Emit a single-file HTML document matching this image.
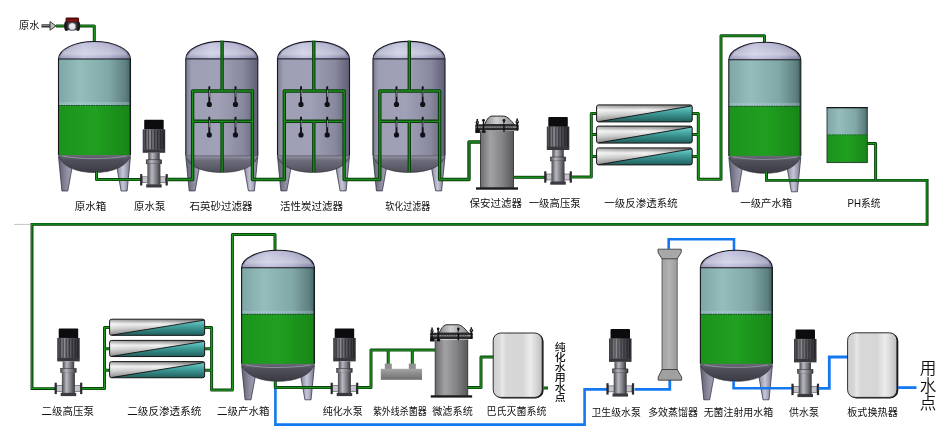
<!DOCTYPE html>
<html lang="zh-CN"><head><meta charset="utf-8"><title>制药用水工艺流程图</title>
<style>html,body{margin:0;padding:0;background:#fff;}body{width:950px;height:433px;overflow:hidden;}svg{display:block;will-change:transform;}text{font-family:"Liberation Sans","Noto Sans CJK SC",sans-serif;fill:#111;}</style>
</head><body>
<svg width="950" height="433" viewBox="0 0 950 433">

<defs>
 <linearGradient id="gDome" x1="0" y1="0" x2="1" y2="0">
  <stop offset="0" stop-color="#9696b6"/><stop offset="0.35" stop-color="#c2c2de"/><stop offset="0.7" stop-color="#adadcc"/><stop offset="1" stop-color="#7c7c9c"/>
 </linearGradient>
 <linearGradient id="gDomeV" x1="0" y1="0" x2="0" y2="1">
  <stop offset="0" stop-color="#ffffff" stop-opacity="0.05"/><stop offset="0.7" stop-color="#ffffff" stop-opacity="0.35"/><stop offset="1" stop-color="#ffffff" stop-opacity="0"/>
 </linearGradient>
 <linearGradient id="gAir" x1="0" y1="0" x2="1" y2="0">
  <stop offset="0" stop-color="#7ea6a6"/><stop offset="0.3" stop-color="#95bdbb"/><stop offset="0.7" stop-color="#80a8a6"/><stop offset="0.93" stop-color="#5e8080"/><stop offset="1" stop-color="#466464"/>
 </linearGradient>
 <linearGradient id="gWater" x1="0" y1="0" x2="1" y2="0">
  <stop offset="0" stop-color="#1c931c"/><stop offset="0.5" stop-color="#20a020"/><stop offset="1" stop-color="#178617"/>
 </linearGradient>
 <linearGradient id="gBot" x1="0" y1="0" x2="0" y2="1">
  <stop offset="0" stop-color="#6e6e7c"/><stop offset="0.3" stop-color="#50505c"/><stop offset="1" stop-color="#3a3a44"/>
 </linearGradient>
 <linearGradient id="gLegL" x1="0" y1="0" x2="1" y2="0">
  <stop offset="0" stop-color="#5e5e70"/><stop offset="0.55" stop-color="#8a8a9c"/><stop offset="1" stop-color="#a2a2b4"/>
 </linearGradient>
 <linearGradient id="gLegR" x1="0" y1="0" x2="1" y2="0">
  <stop offset="0" stop-color="#8a8aa0"/><stop offset="0.45" stop-color="#c6c6d8"/><stop offset="1" stop-color="#74748c"/>
 </linearGradient>
 <linearGradient id="gFilt" x1="0" y1="0" x2="1" y2="0">
  <stop offset="0" stop-color="#7c7c92"/><stop offset="0.08" stop-color="#9e9eb4"/><stop offset="0.45" stop-color="#a0a0b6"/><stop offset="0.8" stop-color="#88889e"/><stop offset="1" stop-color="#5e5e76"/>
 </linearGradient>
 <linearGradient id="gFiltBot" x1="0" y1="0" x2="0" y2="1">
  <stop offset="0" stop-color="#9a9aac"/><stop offset="0.3" stop-color="#6c6c7c"/><stop offset="1" stop-color="#50505c"/>
 </linearGradient>
 <linearGradient id="gMotor" x1="0" y1="0" x2="1" y2="0">
  <stop offset="0" stop-color="#3a3a3e"/><stop offset="0.3" stop-color="#8e8e94"/><stop offset="0.55" stop-color="#5a5a60"/><stop offset="1" stop-color="#2c2c30"/>
 </linearGradient>
 <linearGradient id="gPBody" x1="0" y1="0" x2="1" y2="0">
  <stop offset="0" stop-color="#4a4a50"/><stop offset="0.35" stop-color="#b8b8c0"/><stop offset="0.7" stop-color="#77777e"/><stop offset="1" stop-color="#38383c"/>
 </linearGradient>
 <linearGradient id="gCyl" x1="0" y1="0" x2="0" y2="1">
  <stop offset="0" stop-color="#828282"/><stop offset="0.3" stop-color="#f6f6f6"/><stop offset="0.58" stop-color="#cacaca"/><stop offset="0.85" stop-color="#8c8c8c"/><stop offset="1" stop-color="#5e5e5e"/>
 </linearGradient>
 <linearGradient id="gCylH" x1="0" y1="0" x2="1" y2="0">
  <stop offset="0" stop-color="#ffffff" stop-opacity="0.25"/><stop offset="0.5" stop-color="#808080" stop-opacity="0.0"/><stop offset="1" stop-color="#303030" stop-opacity="0.35"/>
 </linearGradient>
 <linearGradient id="gTeal" x1="0" y1="0" x2="0" y2="1">
  <stop offset="0" stop-color="#6fd0cc"/><stop offset="0.45" stop-color="#3f9c98"/><stop offset="1" stop-color="#1f5e5c"/>
 </linearGradient>
 <linearGradient id="gSec" x1="0" y1="0" x2="1" y2="0">
  <stop offset="0" stop-color="#6c6c6e"/><stop offset="0.3" stop-color="#a2a2a4"/><stop offset="0.65" stop-color="#848486"/><stop offset="1" stop-color="#58585a"/>
 </linearGradient>
 <linearGradient id="gLid" x1="0" y1="0" x2="1" y2="0">
  <stop offset="0" stop-color="#8a8a8c"/><stop offset="0.4" stop-color="#d0d0d2"/><stop offset="1" stop-color="#8a8a8c"/>
 </linearGradient>
 <linearGradient id="gBox" x1="0" y1="0" x2="1" y2="0">
  <stop offset="0" stop-color="#cfcfcf"/><stop offset="0.12" stop-color="#d6d6d6"/><stop offset="0.19" stop-color="#e8e8e8"/><stop offset="0.26" stop-color="#d8d8d8"/><stop offset="0.6" stop-color="#d6d6d6"/><stop offset="0.76" stop-color="#ececec"/><stop offset="0.86" stop-color="#dadada"/><stop offset="1" stop-color="#bdbdbd"/>
 </linearGradient>
 <linearGradient id="gUV" x1="0" y1="0" x2="0" y2="1">
  <stop offset="0" stop-color="#a6a6a6"/><stop offset="0.4" stop-color="#8e8e8e"/><stop offset="1" stop-color="#707070"/>
 </linearGradient>
 <linearGradient id="gCol" x1="0" y1="0" x2="1" y2="0">
  <stop offset="0" stop-color="#a2a2a2"/><stop offset="0.5" stop-color="#b2b2b2"/><stop offset="1" stop-color="#9a9a9a"/>
 </linearGradient>

 <!-- shared tank silhouette pieces: 72 wide, 150 tall -->
 <g id="legs">
  <path d="M0,115 L3.4,149.5 L9.3,149.5 L13.4,127 Z" fill="url(#gLegL)" stroke="#26263a" stroke-width="0.7" stroke-linejoin="round"/>
  <path d="M72,115 L68.6,149.5 L62.6,149.5 L58.6,127 Z" fill="url(#gLegR)" stroke="#26263a" stroke-width="0.7" stroke-linejoin="round"/>
 </g>
 <g id="tank">
  <use href="#legs"/>
  <path d="M0,113 C3,125 18,131 36,131 C54,131 69,125 72,113 Z" fill="url(#gBot)" stroke="#2c2c34" stroke-width="0.6"/>
  <path d="M4,114.5 C20,118 52,118 68,114.5" fill="none" stroke="#b0b0c0" stroke-width="1" opacity="0.6"/>
  <rect x="0" y="17.5" width="72" height="47" fill="url(#gAir)"/>
  <rect x="0" y="60.5" width="72" height="3" fill="#b8d0e0" opacity="0.35"/>
  <rect x="0" y="63.8" width="72" height="49.7" fill="url(#gWater)"/>
  <path d="M0,64 H72" stroke="#123a22" stroke-width="0.9" stroke-dasharray="1.6 0.9"/>
  <path d="M0,17.5 A36,17.5 0 0 1 72,17.5 Z" fill="url(#gDome)"/>
  <path d="M2.5,16.5 A33.5,15 0 0 1 69.5,16.5 Z" fill="url(#gDomeV)"/>
  <path d="M0,113.5 V17.5 A36,17.5 0 0 1 72,17.5 V113.5" fill="none" stroke="#14141c" stroke-width="1.1"/>
  <path d="M0,17.5 H72" stroke="#14141c" stroke-width="1.1"/>
  <path d="M71.2,18 V113" stroke="#23402c" stroke-width="1.2" opacity="0.7"/>
 </g>
 <g id="ftank">
  <use href="#legs"/>
  <path d="M0,114 C3,126 18,131 36,131 C54,131 69,126 72,114 Z" fill="url(#gFiltBot)" stroke="#2c2c34" stroke-width="0.6"/>
  <rect x="0" y="17.5" width="72" height="97" fill="url(#gFilt)"/>
  <path d="M0,114.5 H72" stroke="#5a5a6a" stroke-width="0.8"/>
  <path d="M0,17.5 A36,17.5 0 0 1 72,17.5 Z" fill="url(#gDome)"/>
  <path d="M2.5,16.5 A33.5,15 0 0 1 69.5,16.5 Z" fill="url(#gDomeV)"/>
  <path d="M0,114 V17.5 A36,17.5 0 0 1 72,17.5 V114" fill="none" stroke="#181822" stroke-width="1.1"/>
  <path d="M0,17.5 H72" stroke="#2a2a3a" stroke-width="1.2"/>
 </g>
 <!-- valve: stem + ball -->
 <g id="valve">
  <path d="M0,-4.5 V13" stroke="#101018" stroke-width="1.9"/>
  <path d="M0.3,-1 V6" stroke="#d8d8e0" stroke-width="0.6"/>
  <circle cx="0" cy="13.6" r="2.6" fill="#101018"/>
 </g>
 <!-- pump: origin at motor top-left of 22 wide -->
 <g id="pump">
  <rect x="1.5" y="0" width="19.5" height="10" rx="1" fill="#0c0c0e"/>
  <rect x="0" y="9.5" width="22.5" height="20.5" fill="url(#gMotor)"/>
  <path d="M3,10 V29.5 M6,10 V29.5 M9,10 V29.5 M12,10 V29.5 M15,10 V29.5 M18,10 V29.5 M20.5,10 V29.5" stroke="#1a1a1e" stroke-width="0.9" opacity="0.75"/>
  <rect x="0" y="29.5" width="22.5" height="3.5" fill="#38383c"/>
  <rect x="5.5" y="33" width="11.5" height="7.5" fill="url(#gPBody)"/>
  <rect x="3.5" y="40" width="15.5" height="4" fill="url(#gPBody)" stroke="#222" stroke-width="0.5"/>
  <rect x="4.7" y="44" width="13" height="21" fill="url(#gPBody)"/>
  <rect x="3.5" y="64.5" width="15.5" height="3.2" fill="#3a3a40"/>
  <rect x="-0.5" y="57" width="5.5" height="6" fill="#c4c4cc" stroke="#333" stroke-width="0.5"/>
  <rect x="17.5" y="57" width="5.5" height="6" fill="#c4c4cc" stroke="#333" stroke-width="0.5"/>
  <rect x="-2.6" y="54.3" width="2.2" height="11.4" fill="#2a2a2e"/>
  <rect x="22.9" y="54.3" width="2.2" height="11.4" fill="#2a2a2e"/>
 </g>
 <!-- RO cylinder 96 x 18 -->
 <g id="rocyl">
  <rect x="0" y="0" width="95.6" height="17" rx="2" fill="url(#gCyl)"/>
  <rect x="0" y="0" width="95.6" height="17" rx="2" fill="url(#gCylH)"/>
  <path d="M3,16.6 L95.2,1 L95.6,15 Q95.6,17 93.6,17 Z" fill="url(#gTeal)"/>
  <path d="M2,16.8 L95.2,1" stroke="#0c0c0c" stroke-width="0.9"/>
  <rect x="0" y="0" width="95.6" height="17" rx="2" fill="none" stroke="#141414" stroke-width="1"/>
 </g>
 <!-- bag / security filter : origin at body top-left, body 33 wide -->
 <g id="secf">
  <rect x="0" y="0" width="33" height="57" fill="url(#gSec)"/>
  <path d="M0,0 V57 M33,0 V57" stroke="#242426" stroke-width="0.8"/>
  <rect x="-4.5" y="56.3" width="42" height="2.4" fill="#1c1c1e"/>
  <path d="M4,-6.3 C5.5,-10 8,-14.9 11.5,-14.9 H23 C27,-14.9 31,-10 34,-6.3 Z" fill="url(#gLid)" stroke="#161618" stroke-width="0.9"/>
  <rect x="-5.2" y="-6.8" width="43.4" height="6.4" rx="0.8" fill="#2a2a2d"/>
  <rect x="-4.6" y="-4.6" width="42.2" height="1.5" fill="#9a9a9e"/>
  <path d="M-1,-3.8 H33" stroke="#2a2a2d" stroke-width="0.7" stroke-dasharray="1.4 0.9"/>
  <path d="M-3.2,-12 V-0.5 M3,-11.5 V0.8 M23.5,-11.5 V0.8 M36.7,-12.4 V-0.5" stroke="#121214" stroke-width="1.5"/>
  <circle cx="-3.2" cy="-8.6" r="1.7" fill="#121214"/><circle cx="36.7" cy="-9" r="1.8" fill="#121214"/>
  <circle cx="3" cy="-10.8" r="1.3" fill="#121214"/><circle cx="23.5" cy="-10.8" r="1.3" fill="#121214"/>
  <path d="M-3.6,-8.8 H-2.6 M36.2,-9.4 H37.4 M23,-7.6 H24.4" stroke="#d8d8dc" stroke-width="0.9"/>
  <rect x="-5.2" y="-1.2" width="4.6" height="3.2" fill="#101012"/>
  <rect x="1.6" y="-0.6" width="3.4" height="2.4" fill="#101012"/>
 </g>
</defs>

<path d="M41.5,25.9 H50.5" stroke="#2e2e2e" stroke-width="3.2"/><path d="M42,25.6 H50.5" stroke="#8a8a8a" stroke-width="1"/>
<path d="M50,21.6 L56,25.9 L50,30.2 Z" fill="#bdbdbd" stroke="#2a2a2a" stroke-width="0.9"/>
<path d="M56,25.9 H94.3 V42.5" fill="none" stroke="#0a400c" stroke-width="3.0" stroke-linejoin="round"/>
<path d="M56,25.9 H94.3 V42.5" fill="none" stroke="#1e961e" stroke-width="1.25" stroke-linejoin="round"/>
<g><ellipse cx="66.4" cy="25.9" rx="2.3" ry="5" fill="#1a1a1c"/><ellipse cx="77.9" cy="25.9" rx="2.3" ry="5" fill="#1a1a1c"/><rect x="67" y="21.6" width="10.4" height="8.8" rx="3" fill="#3a3a3e"/><ellipse cx="72.2" cy="26.4" rx="3.7" ry="3.6" fill="#e6eaee" stroke="#55595e" stroke-width="0.6"/><rect x="65.6" y="17.6" width="13.4" height="4.3" rx="1.2" fill="#4e0a0a"/><rect x="67" y="19.4" width="10.6" height="2" fill="#8e1616"/></g>
<use href="#tank" x="58.5" y="41.5"/>
<path d="M96.5,171.5 V179.6 H141" fill="none" stroke="#0a400c" stroke-width="3.0" stroke-linejoin="round"/>
<path d="M96.5,171.5 V179.6 H141" fill="none" stroke="#1e961e" stroke-width="1.25" stroke-linejoin="round"/>
<use href="#pump" x="142.7" y="119.8"/>
<use href="#ftank" x="185.8" y="41.4"/>
<use href="#ftank" x="277.5" y="41.4"/>
<use href="#ftank" x="373" y="41.4"/>
<path d="M168,179.5 H192.60000000000002 V91 H252.4 V179.5 H284.3 V91 H344.1 V179.5 H379.8 V91 H439.6 V179.5 H469 V142 H481 M222.10000000000002,40.8 V91 M222.10000000000002,121.3 V172 M192.60000000000002,121.3 H252.4 M313.8,40.8 V91 M313.8,121.3 V172 M284.3,121.3 H344.1 M409.3,40.8 V91 M409.3,121.3 V172 M379.8,121.3 H439.6" fill="none" stroke="#0a3c0c" stroke-width="3.4" stroke-linejoin="round"/>
<path d="M168,179.5 H192.60000000000002 V91 H252.4 V179.5 H284.3 V91 H344.1 V179.5 H379.8 V91 H439.6 V179.5 H469 V142 H481 M222.10000000000002,40.8 V91 M222.10000000000002,121.3 V172 M192.60000000000002,121.3 H252.4 M313.8,40.8 V91 M313.8,121.3 V172 M284.3,121.3 H344.1 M409.3,40.8 V91 M409.3,121.3 V172 M379.8,121.3 H439.6" fill="none" stroke="#1c8e1c" stroke-width="1.3" stroke-linejoin="round"/>
<use href="#valve" x="209.3" y="90.8"/>
<use href="#valve" x="209.3" y="121.3"/>
<use href="#valve" x="235.5" y="90.8"/>
<use href="#valve" x="235.5" y="121.3"/>
<use href="#valve" x="301.0" y="90.8"/>
<use href="#valve" x="301.0" y="121.3"/>
<use href="#valve" x="327.2" y="90.8"/>
<use href="#valve" x="327.2" y="121.3"/>
<use href="#valve" x="396.5" y="90.8"/>
<use href="#valve" x="396.5" y="121.3"/>
<use href="#valve" x="422.7" y="90.8"/>
<use href="#valve" x="422.7" y="121.3"/>
<use href="#secf" x="480.5" y="131"/>
<path d="M513.5,177.3 H545" fill="none" stroke="#0a400c" stroke-width="3.0" stroke-linejoin="round"/>
<path d="M513.5,177.3 H545" fill="none" stroke="#1e961e" stroke-width="1.25" stroke-linejoin="round"/>
<use href="#pump" x="546.8" y="117"/>
<path d="M571.5,177 H591.3 V113.4 H597 M591.3,134.6 H597 M591.3,156.4 H597" fill="none" stroke="#0a400c" stroke-width="3.0" stroke-linejoin="round"/>
<path d="M571.5,177 H591.3 V113.4 H597 M591.3,134.6 H597 M591.3,156.4 H597" fill="none" stroke="#1e961e" stroke-width="1.25" stroke-linejoin="round"/>
<path d="M692,113.4 H698.3 V179.3 H721 V35.8 H764.5 V43 M692,134.6 H698.3 M692,156.4 H698.3" fill="none" stroke="#0a400c" stroke-width="3.0" stroke-linejoin="round"/>
<path d="M692,113.4 H698.3 V179.3 H721 V35.8 H764.5 V43 M692,134.6 H698.3 M692,156.4 H698.3" fill="none" stroke="#1e961e" stroke-width="1.25" stroke-linejoin="round"/>
<use href="#rocyl" x="596.6" y="104.9"/>
<use href="#rocyl" x="596.6" y="126.1"/>
<use href="#rocyl" x="596.6" y="147.9"/>
<use href="#tank" x="728.8" y="42.3"/>
<path d="M766.5,172 V180.4 H927.1 V224.4 H32 V388.6 H55" fill="none" stroke="#07340a" stroke-width="2.9" stroke-linejoin="miter"/>
<path d="M766.5,172 V180.4 H927.1 V224.4 H32 V388.6 H55" fill="none" stroke="#15981a" stroke-width="1.3" stroke-linejoin="miter" transform="translate(-0.2 -0.3)"/>
<path d="M867,143.6 H875.6 V180" fill="none" stroke="#0a400c" stroke-width="3.0" stroke-linejoin="round"/>
<path d="M867,143.6 H875.6 V180" fill="none" stroke="#1e961e" stroke-width="1.25" stroke-linejoin="round"/>
<g><rect x="827" y="107.6" width="40.3" height="27.4" fill="url(#gAir)"/><rect x="827" y="134.6" width="40.3" height="28" fill="url(#gWater)"/><path d="M827,134.8 H867.3" stroke="#1d4a30" stroke-width="0.7" stroke-dasharray="1.5 1"/><rect x="827" y="107.6" width="40.3" height="55" fill="none" stroke="#23342c" stroke-width="0.9"/><path d="M826.6,107.6 H867.7" stroke="#16161a" stroke-width="1.2"/></g>
<path d="M14,224.4 H30" stroke="#c4c4c4" stroke-width="1"/>
<use href="#pump" x="57.2" y="328.4"/>
<path d="M82,388.6 H104.5 V327.6 H110.5 M104.5,348.8 H110.5 M104.5,370.2 H110.5" fill="none" stroke="#0a400c" stroke-width="3.0" stroke-linejoin="round"/>
<path d="M82,388.6 H104.5 V327.6 H110.5 M104.5,348.8 H110.5 M104.5,370.2 H110.5" fill="none" stroke="#1e961e" stroke-width="1.25" stroke-linejoin="round"/>
<path d="M205,327.6 H211.6 V390 H232.4 V234.5 H275 V251 M205,348.8 H211.6 M205,370.2 H211.6" fill="none" stroke="#0a400c" stroke-width="3.0" stroke-linejoin="round"/>
<path d="M205,327.6 H211.6 V390 H232.4 V234.5 H275 V251 M205,348.8 H211.6 M205,370.2 H211.6" fill="none" stroke="#1e961e" stroke-width="1.25" stroke-linejoin="round"/>
<use href="#rocyl" x="109.6" y="319.2" transform="translate(109.6 319.2) scale(0.994 0.95) translate(-109.6 -319.2)"/>
<use href="#rocyl" x="109.6" y="340.4" transform="translate(109.6 340.4) scale(0.994 0.95) translate(-109.6 -340.4)"/>
<use href="#rocyl" x="109.6" y="361.6" transform="translate(109.6 361.6) scale(0.994 0.95) translate(-109.6 -361.6)"/>
<use href="#tank" x="241.6" y="250.3" transform="translate(241.6 250.3) scale(1.012 1) translate(-241.6 -250.3)"/>
<path d="M275.4,388 V424.6 H584.6 V389.4 H608" fill="none" stroke="#1478f0" stroke-width="2.6" stroke-linejoin="miter"/>
<path d="M275.3,381 V387.6 H332" fill="none" stroke="#0a400c" stroke-width="3.0" stroke-linejoin="round"/>
<path d="M275.3,381 V387.6 H332" fill="none" stroke="#1e961e" stroke-width="1.25" stroke-linejoin="round"/>
<use href="#pump" x="333.2" y="328.4"/>
<path d="M358,387.5 H371 V350 H435 M388.2,350 V365 M412.3,350 V365" fill="none" stroke="#0a400c" stroke-width="3.0" stroke-linejoin="round"/>
<path d="M358,387.5 H371 V350 H435 M388.2,350 V365 M412.3,350 V365" fill="none" stroke="#1e961e" stroke-width="1.25" stroke-linejoin="round"/>
<g><rect x="384.8" y="363.6" width="7" height="6.4" fill="#909090"/><rect x="408.8" y="363.6" width="7" height="6.4" fill="#909090"/><rect x="380.8" y="368.8" width="41.2" height="11" fill="url(#gUV)"/></g>
<use href="#secf" x="435.2" y="339.5" transform="translate(435.2 339.5) scale(0.985 0.99) translate(-435.2 -339.5)"/>
<path d="M467.4,387.6 H481 V357 H494" fill="none" stroke="#0a400c" stroke-width="3.0" stroke-linejoin="round"/>
<path d="M467.4,387.6 H481 V357 H494" fill="none" stroke="#1e961e" stroke-width="1.25" stroke-linejoin="round"/>
<rect x="494" y="333.4" width="49.6" height="65" rx="8" fill="#161616"/>
<rect x="493.2" y="333" width="49" height="64.4" rx="7.5" fill="url(#gBox)" stroke="#1a1a1a" stroke-width="0.9"/>
<path d="M543.5,388 H548" fill="none" stroke="#0a400c" stroke-width="3.0" stroke-linejoin="round"/>
<path d="M543.5,388 H548" fill="none" stroke="#1e961e" stroke-width="1.25" stroke-linejoin="round"/>
<use href="#pump" x="609" y="328.9"/>
<path d="M634.5,389.3 H669.8 V380" fill="none" stroke="#1478f0" stroke-width="2.8"/>
<g><rect x="662" y="256" width="15.2" height="115" fill="url(#gCol)" stroke="#3c3c3c" stroke-width="0.7"/><path d="M658,249.2 H681.2 V252.5 L677.2,258.8 H662 L658,252.5 Z" fill="#a8a8a8" stroke="#2c2c2c" stroke-width="0.8"/><path d="M662,369.5 H677.2 L681.6,377 V380.2 H658.2 V377 Z" fill="#a0a0a0" stroke="#2c2c2c" stroke-width="0.8"/></g>
<path d="M668.7,249 V239.2 H734 V251" fill="none" stroke="#1478f0" stroke-width="2.6"/>
<use href="#tank" x="700.4" y="250.3"/>
<path d="M733.6,381 V388.3 H792" fill="none" stroke="#1478f0" stroke-width="2.6"/>
<use href="#pump" x="794" y="329.4"/>
<path d="M818.5,388.4 H829.3 V357 H848" fill="none" stroke="#1478f0" stroke-width="2.8"/>
<rect x="848.3" y="333.2" width="50" height="65.2" rx="8" fill="#161616"/>
<rect x="847.6" y="332.8" width="49.3" height="64.6" rx="7.5" fill="url(#gBox)" stroke="#1a1a1a" stroke-width="0.9"/>
<path d="M898,387.6 H916.5" fill="none" stroke="#1478f0" stroke-width="2.8"/>
<g opacity="0.999">
<text x="19" y="29.4" font-size="10.6" textLength="20.4" lengthAdjust="spacingAndGlyphs">原水</text>
<text x="90.5" y="210.35" font-size="10.6" text-anchor="middle" textLength="31.6" lengthAdjust="spacingAndGlyphs">原水箱</text>
<text x="149.7" y="210.35" font-size="10.6" text-anchor="middle" textLength="31.2" lengthAdjust="spacingAndGlyphs">原水泵</text>
<text x="221" y="210.35" font-size="10.6" text-anchor="middle" textLength="63" lengthAdjust="spacingAndGlyphs">石英砂过滤器</text>
<text x="311.6" y="210.35" font-size="10.6" text-anchor="middle" textLength="63" lengthAdjust="spacingAndGlyphs">活性炭过滤器</text>
<text x="407.7" y="209.95" font-size="10.6" text-anchor="middle" textLength="44.8" lengthAdjust="spacingAndGlyphs">软化过滤器</text>
<text x="495.7" y="206.95" font-size="10.6" text-anchor="middle" textLength="52.3" lengthAdjust="spacingAndGlyphs">保安过滤器</text>
<text x="554.7" y="206.95" font-size="10.6" text-anchor="middle" textLength="52" lengthAdjust="spacingAndGlyphs">一级高压泵</text>
<text x="641" y="206.95" font-size="10.6" text-anchor="middle" textLength="73.3" lengthAdjust="spacingAndGlyphs">一级反渗透系统</text>
<text x="766.2" y="206.95" font-size="10.6" text-anchor="middle" textLength="51.8" lengthAdjust="spacingAndGlyphs">一级产水箱</text>
<text x="864" y="207.35" font-size="10.6" text-anchor="middle" textLength="32.8" lengthAdjust="spacingAndGlyphs">PH系统</text>
<text x="67.7" y="415.15" font-size="10.6" text-anchor="middle" textLength="52.5" lengthAdjust="spacingAndGlyphs">二级高压泵</text>
<text x="164.3" y="415.15" font-size="10.6" text-anchor="middle" textLength="74" lengthAdjust="spacingAndGlyphs">二级反渗透系统</text>
<text x="243.2" y="415.15" font-size="10.6" text-anchor="middle" textLength="52.3" lengthAdjust="spacingAndGlyphs">二级产水箱</text>
<text x="342.8" y="415.15" font-size="10.6" text-anchor="middle" textLength="40" lengthAdjust="spacingAndGlyphs">纯化水泵</text>
<text x="399.8" y="415.15" font-size="10.6" text-anchor="middle" textLength="53.8" lengthAdjust="spacingAndGlyphs">紫外线杀菌器</text>
<text x="452.5" y="415.15" font-size="10.6" text-anchor="middle" textLength="40.6" lengthAdjust="spacingAndGlyphs">微滤系统</text>
<text x="516.6" y="415.15" font-size="10.6" text-anchor="middle" textLength="60" lengthAdjust="spacingAndGlyphs">巴氏灭菌系统</text>
<text x="616.1" y="416.05" font-size="10.6" text-anchor="middle" textLength="49.3" lengthAdjust="spacingAndGlyphs">卫生级水泵</text>
<text x="673.1" y="416.05" font-size="10.6" text-anchor="middle" textLength="49.9" lengthAdjust="spacingAndGlyphs">多效蒸馏器</text>
<text x="738.4" y="416.05" font-size="10.6" text-anchor="middle" textLength="69.5" lengthAdjust="spacingAndGlyphs">无菌注射用水箱</text>
<text x="804" y="416.05" font-size="10.6" text-anchor="middle" textLength="29.8" lengthAdjust="spacingAndGlyphs">供水泵</text>
<text x="872.5" y="416.05" font-size="10.6" text-anchor="middle" textLength="50.5" lengthAdjust="spacingAndGlyphs">板式换热器</text>
<text x="560.3" y="350.8" font-size="10" text-anchor="middle" font-weight="500" textLength="10.9" lengthAdjust="spacingAndGlyphs">纯</text>
<text x="560.3" y="360.85" font-size="10" text-anchor="middle" font-weight="500" textLength="10.9" lengthAdjust="spacingAndGlyphs">化</text>
<text x="560.3" y="370.90000000000003" font-size="10" text-anchor="middle" font-weight="500" textLength="10.9" lengthAdjust="spacingAndGlyphs">水</text>
<text x="560.3" y="380.95" font-size="10" text-anchor="middle" font-weight="500" textLength="10.9" lengthAdjust="spacingAndGlyphs">用</text>
<text x="560.3" y="391.0" font-size="10" text-anchor="middle" font-weight="500" textLength="10.9" lengthAdjust="spacingAndGlyphs">水</text>
<text x="560.3" y="401.05" font-size="10" text-anchor="middle" font-weight="500" textLength="10.9" lengthAdjust="spacingAndGlyphs">点</text>
<text x="928" y="374.3" font-size="16.6" font-weight="350" text-anchor="middle" fill="#222">用</text>
<text x="928" y="391.6" font-size="16.6" font-weight="350" text-anchor="middle" fill="#222">水</text>
<text x="928" y="408.9" font-size="16.6" font-weight="350" text-anchor="middle" fill="#222">点</text>
</g>
</svg></body></html>
